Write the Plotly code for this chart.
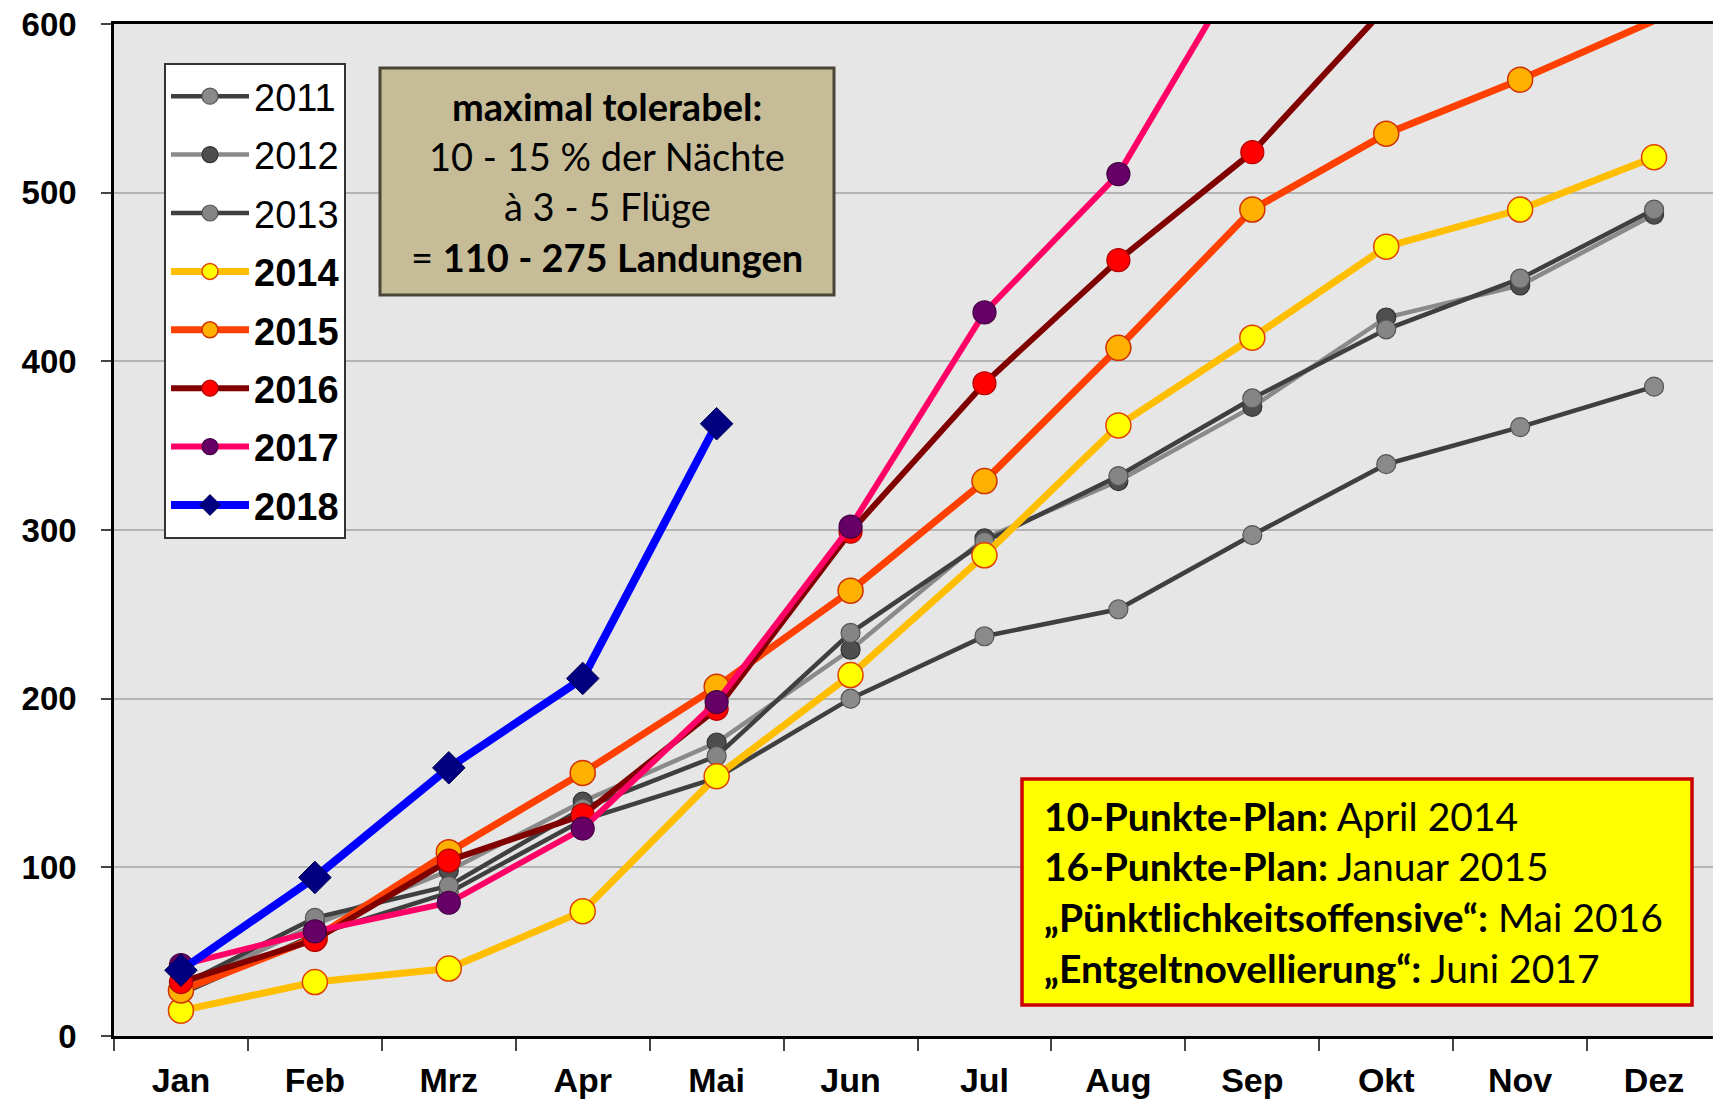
import plotly.graph_objects as go

# ---------------- data ----------------
months = ["Jan", "Feb", "Mrz", "Apr", "Mai", "Jun", "Jul", "Aug", "Sep", "Okt", "Nov", "Dez"]
y2011 = [25, 60, 85, 128, 153, 200, 237, 253, 297, 339, 361, 385]
y2012 = [28, 66, 98, 139, 174, 229, 295, 329, 373, 426, 445, 487]
y2013 = [30, 70, 89, 135, 166, 239, 293, 332, 378, 419, 449, 490]
y2014 = [15, 32, 40, 74, 154, 214, 285, 362, 414, 468, 490, 521]
y2015 = [27, 58, 109, 156, 207, 264, 329, 408, 490, 535, 567, 602]
y2016 = [32, 57, 104, 131, 194, 299, 387, 460, 524, 610]
y2017 = [42, 62, 79, 123, 198, 302, 429, 511, 645]
y2018 = [39, 94, 159, 212, 363]
y_ticks = [0, 100, 200, 300, 400, 500, 600]
Y_MAX = 600

box1_lines = ["<b>maximal tolerabel:</b>",
              "10 - 15 % der Nächte",
              "à 3 - 5 Flüge",
              "= <b>110 - 275 Landungen</b>"]
box2_lines = ["<b>10-Punkte-Plan:</b> April 2014",
              "<b>16-Punkte-Plan:</b> Januar 2015",
              "<b>„Pünktlichkeitsoffensive“:</b> Mai 2016",
              "<b>„Entgeltnovellierung“:</b> Juni 2017"]

# ---------------- layout geometry ----------------
W, H = 1713, 1100
ML, MR, MT, MB = 114, 0, 24, 64
PW, PH = W - ML - MR, H - MT - MB


def px(x):
    return (x - ML) / PW


def py(y):
    return 1 - (y - MT) / PH


TICKFONT = "Liberation Sans Narrow, Arial Narrow, Liberation Sans, Arial"
LEGFONT = "Liberation Sans, Arial"
BOXFONT = "Lato, Carlito, Calibri, Open Sans"

series = [
    ("2011", y2011, dict(color="#3f3f3f", width=4.5), dict(color="#8a8a8a", size=19, symbol="circle", line=dict(color="#555555", width=1.2))),
    ("2012", y2012, dict(color="#8a8a8a", width=4.5), dict(color="#4e4e4e", size=19, symbol="circle", line=dict(color="#333333", width=1.2))),
    ("2013", y2013, dict(color="#3f3f3f", width=4.5), dict(color="#858585", size=19, symbol="circle", line=dict(color="#555555", width=1.2))),
    ("<b>2014</b>", y2014, dict(color="#ffbf00", width=7), dict(color="#ffff00", size=25, symbol="circle", line=dict(color="#e04000", width=1.5))),
    ("<b>2015</b>", y2015, dict(color="#ff4000", width=7), dict(color="#ffb000", size=25, symbol="circle", line=dict(color="#d03000", width=1.5))),
    ("<b>2016</b>", y2016, dict(color="#800000", width=6), dict(color="#ff0000", size=23, symbol="circle", line=dict(color="#b00000", width=1.2))),
    ("<b>2017</b>", y2017, dict(color="#ff0066", width=6), dict(color="#660066", size=23, symbol="circle", line=dict(color="#440044", width=1.2))),
    ("<b>2018</b>", y2018, dict(color="#0000ff", width=8), dict(color="#000080", size=25, symbol="diamond", line=dict(color="#000050", width=1))),
]

fig = go.Figure()
for i, (name, ys, line, marker) in enumerate(series):
    # like the original chart, markers of points beyond the axis maximum are not drawn
    m = dict(marker)
    m["size"] = [marker["size"] if v <= Y_MAX else 0 for v in ys]
    m["opacity"] = 1
    fig.add_trace(go.Scatter(
        x=months[:len(ys)], y=ys, name=name, mode="lines+markers",
        line=line, marker=m, legendgroup=f"g{i}", cliponaxis=True,
    ))

shapes = [
    # tan box
    dict(type="rect", xref="paper", yref="paper", x0=px(380), x1=px(834), y0=py(295), y1=py(68),
         fillcolor="#c6bd98", line=dict(color="#4a4636", width=3), layer="above"),
    # yellow box
    dict(type="rect", xref="paper", yref="paper", x0=px(1022), x1=px(1692), y0=py(1005), y1=py(779),
         fillcolor="#ffff00", line=dict(color="#cc0000", width=3.5), layer="above"),
]

annotations = []
for txt, yy in zip(box1_lines, [106, 156, 206, 257]):
    annotations.append(dict(text=txt, xref="paper", yref="paper", x=px(607), y=py(yy),
                            xanchor="center", yanchor="middle", showarrow=False,
                            font=dict(family=BOXFONT, size=38, color="black")))
for txt, yy in zip(box2_lines, [816, 866, 917, 968]):
    annotations.append(dict(text=txt, xref="paper", yref="paper", x=px(1042), y=py(yy),
                            xanchor="left", yanchor="middle", showarrow=False, align="left",
                            font=dict(family=BOXFONT, size=39, color="black")))

fig.update_layout(
    width=W, height=H,
    margin=dict(l=ML, r=MR, t=MT, b=MB, pad=0),
    paper_bgcolor="white",
    plot_bgcolor="#e6e6e6",
    showlegend=True,
    legend=dict(
        x=px(164), y=py(63), xanchor="left", yanchor="top",
        bgcolor="white", bordercolor="#333333", borderwidth=2,
        font=dict(family=LEGFONT, size=38, color="black"),
        tracegroupgap=6, traceorder="grouped", itemwidth=78,
    ),
    shapes=shapes,
    annotations=annotations,
    xaxis=dict(
        type="category", categoryorder="array", categoryarray=months,
        range=[-0.5, 11.44], showgrid=False, zeroline=False,
        showline=True, linecolor="black", linewidth=3, mirror=True,
        ticks="outside", ticklen=12, tickwidth=1.5, tickcolor="#444444",
        tickson="boundaries", ticklabelstandoff=12,
        tickfont=dict(family=TICKFONT, size=34, color="black", weight="bold"),
    ),
    yaxis=dict(
        range=[0, Y_MAX], tickvals=y_ticks, ticktext=[str(v) for v in y_ticks],
        showgrid=True, gridcolor="#b4b4b4", gridwidth=1.5, zeroline=False,
        showline=True, linecolor="black", linewidth=2.5,
        ticks="outside", ticklen=10, tickwidth=1.5, tickcolor="#444444",
        ticklabelstandoff=18,
        tickfont=dict(family=TICKFONT, size=33, color="black", weight="bold"),
    ),
)

fig.write_html("out.html", config={"displayModeBar": False},
               post_script="document.body.style.margin='0';document.body.style.overflow='hidden';")
